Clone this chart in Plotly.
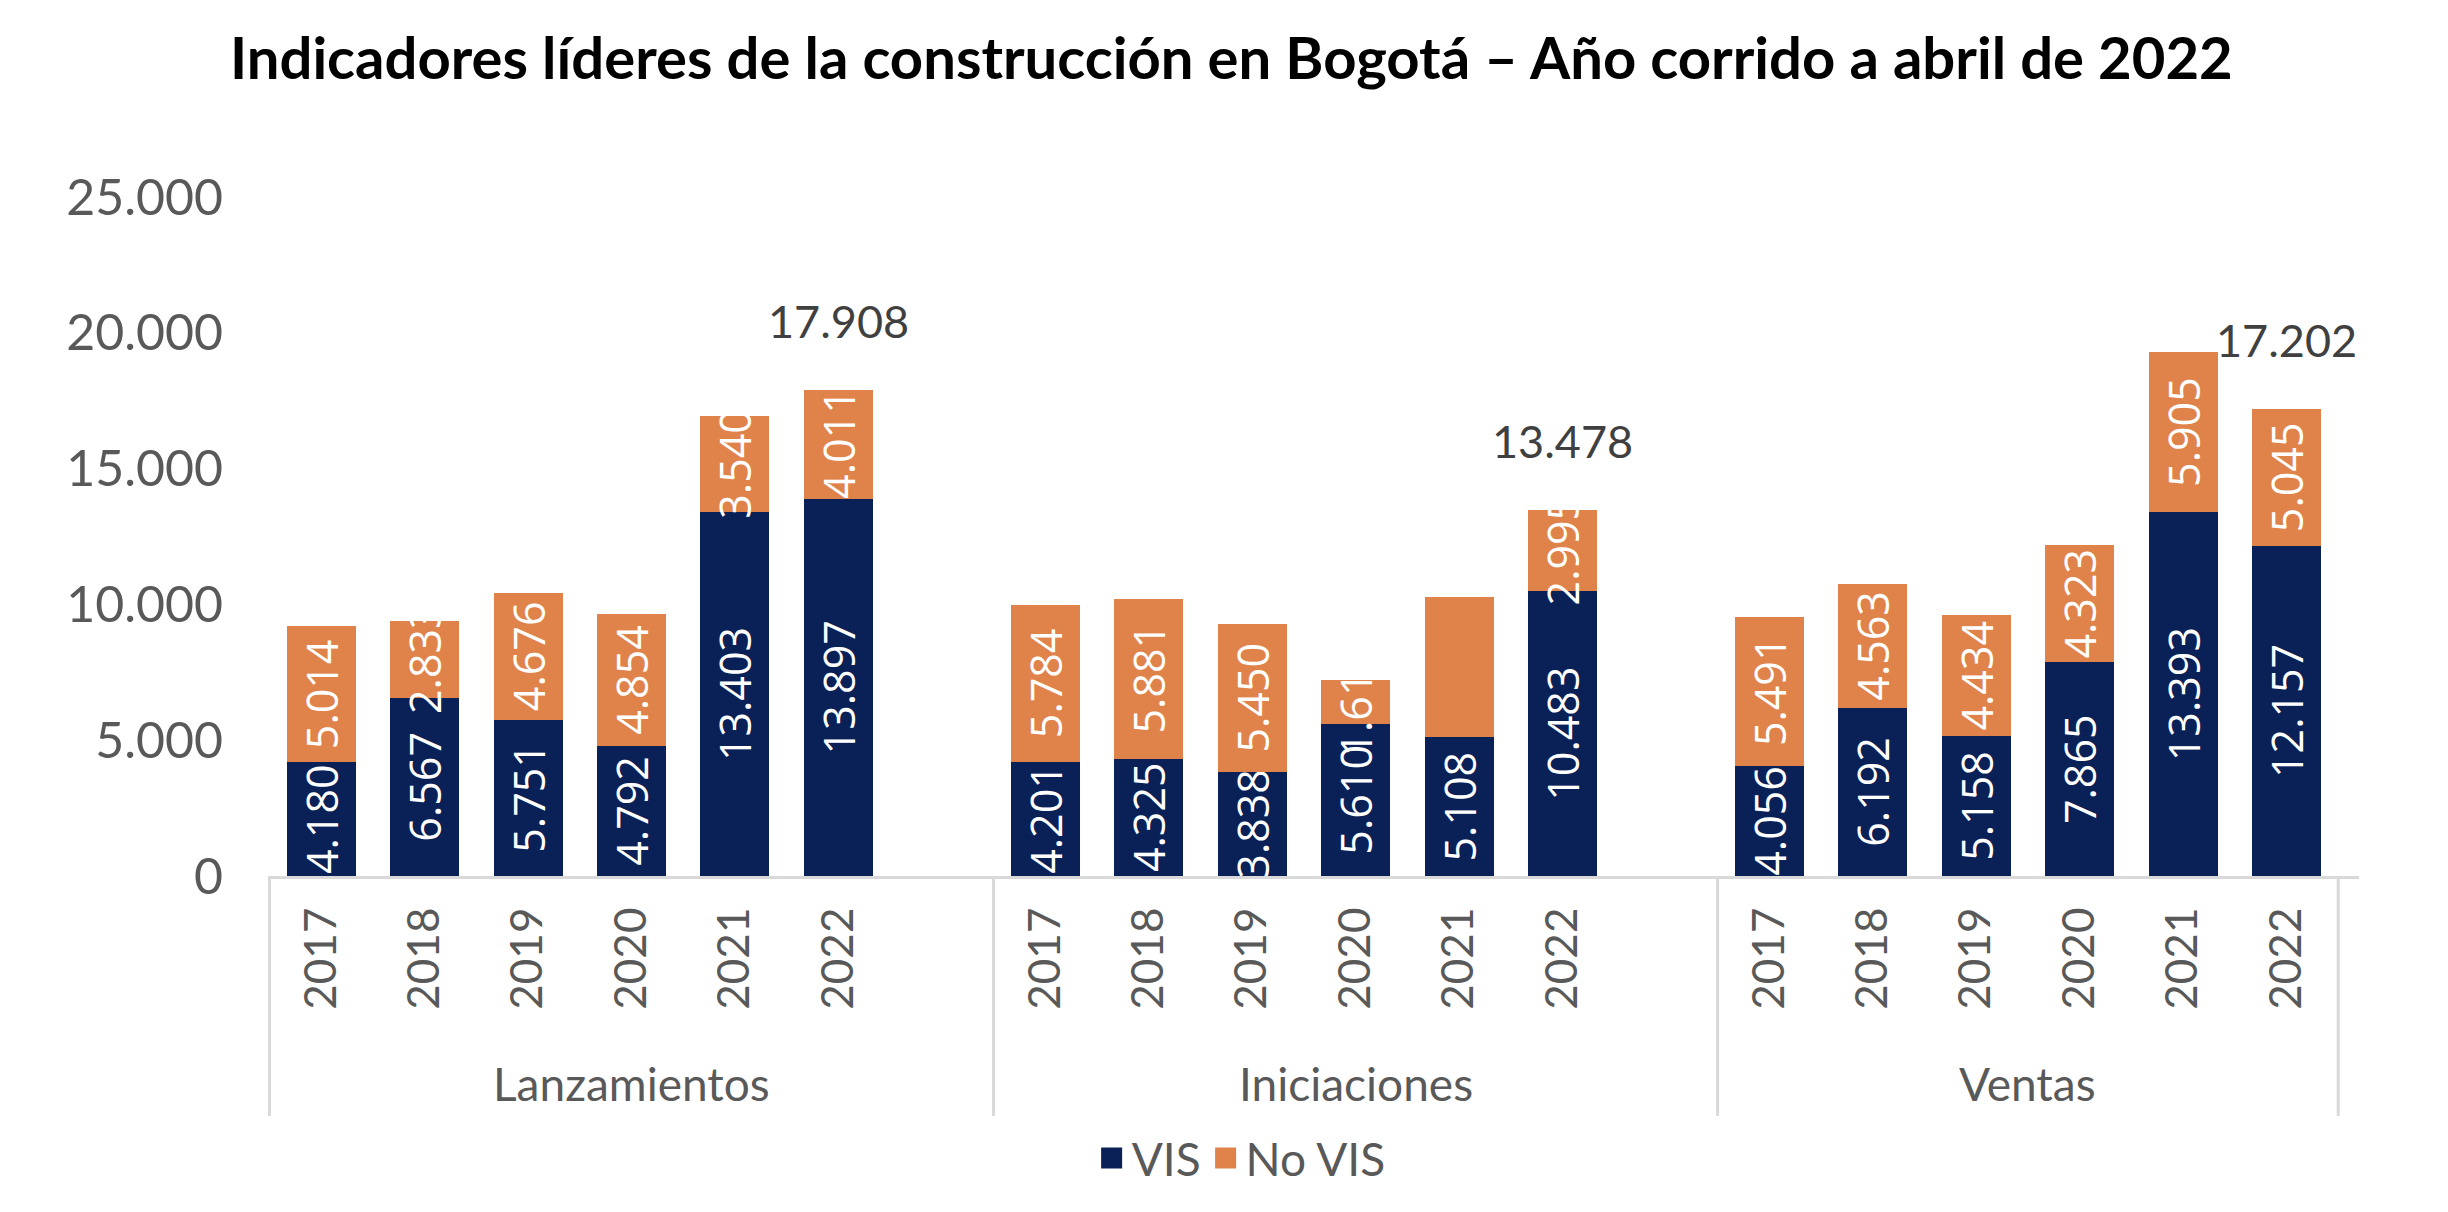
import plotly.graph_objects as go

# ---------------- data ----------------
groups = ["Lanzamientos", "Iniciaciones", "Ventas"]
years = ["2017", "2018", "2019", "2020", "2021", "2022"]

vis_lanzamientos = [4180, 6567, 5751, 4792, 13403, 13897]
novis_lanzamientos = [5014, 2833, 4676, 4854, 3540, 4011]

vis_iniciaciones = [4201, 4325, 3838, 5610, 5108, 10483]
novis_iniciaciones = [5784, 5881, 5450, 1613, 5170, 2995]

vis_ventas = [4056, 6192, 5158, 7865, 13393, 12157]
novis_ventas = [5491, 4563, 4434, 4323, 5905, 5045]

y_ticks = [0, 5000, 10000, 15000, 20000, 25000]

# labels not shown in the original (group, year, series)
hidden_labels = [("Iniciaciones", "2021", "No VIS")]
# groups followed by an empty category slot
groups_with_gap = ["Lanzamientos", "Iniciaciones"]

# ---------------- style ----------------
NAVY = "#0A2158"
ORANGE = "#E0834A"
GREY = "#595959"
AXIS_GREY = "#D9D9D9"
FONT = "Lato"

vis = {"Lanzamientos": vis_lanzamientos, "Iniciaciones": vis_iniciaciones, "Ventas": vis_ventas}
novis = {"Lanzamientos": novis_lanzamientos, "Iniciaciones": novis_iniciaciones, "Ventas": novis_ventas}


def fmt(v):
    return f"{v:,}".replace(",", ".")


# categories: one per (group, year) plus an empty slot after some groups
cats, tick_text = [], []
y_vis, y_novis, t_vis, t_novis = [], [], [], []
group_slots = {}
for g in groups:
    group_slots[g] = []
    for i, yr in enumerate(years):
        group_slots[g].append(len(cats))
        cats.append(f"{g} {yr}")
        tick_text.append(yr)
        y_vis.append(vis[g][i])
        y_novis.append(novis[g][i])
        t_vis.append("" if (g, yr, "VIS") in hidden_labels else fmt(vis[g][i]))
        t_novis.append("" if (g, yr, "No VIS") in hidden_labels else fmt(novis[g][i]))
    if g in groups_with_gap:
        group_slots[g].append(len(cats))
        cats.append(f"{g} (vacío)")
        tick_text.append("")
        y_vis.append(None)
        y_novis.append(None)
        t_vis.append("")
        t_novis.append("")

fig = go.Figure()
for name, yy, tt, col in [("VIS", y_vis, t_vis, NAVY), ("No VIS", y_novis, t_novis, ORANGE)]:
    fig.add_trace(go.Bar(
        x=cats, y=yy, name=name, legendgroup=name, showlegend=False,
        marker=dict(color=col, line=dict(width=0)),
        text=tt, textposition="inside", insidetextanchor="middle", textangle=-90,
        textfont=dict(family="Open Sans", size=43, color="white"),
        cliponaxis=True,
    ))
    # legend entry with a larger square swatch
    fig.add_trace(go.Scatter(
        x=[None], y=[None], mode="markers", name=name, legendgroup=name,
        marker=dict(symbol="square", size=27, color=col, line=dict(color=col, width=5)),
        showlegend=True,
    ))

# geometry of the plot area (pixels)
PLOT_TOP, PLOT_BOTTOM = 197, 876
plot_h = PLOT_BOTTOM - PLOT_TOP

# totals above the last year of each group, group names and dividers
for g in groups:
    last = group_slots[g][len(years) - 1]
    total = vis[g][-1] + novis[g][-1]
    fig.add_annotation(
        x=last, y=total, xref="x", yref="y", text=fmt(total), showarrow=False,
        yanchor="middle", yshift=69,
        font=dict(family=FONT, size=45, color="#404040"),
    )
    slots = group_slots[g]
    fig.add_annotation(
        x=sum(slots) / len(slots), y=-(1083 - PLOT_BOTTOM) / plot_h,
        xref="x", yref="paper", text=g, showarrow=False, yanchor="middle",
        font=dict(family=FONT, size=46, color=GREY),
    )
    for edge in ([slots[0] - 0.5] if g == groups[0] else []) + [slots[-1] + 0.5]:
        fig.add_shape(
            type="line", xref="x", yref="paper", x0=edge, x1=edge,
            y0=0, y1=-(1116 - PLOT_BOTTOM) / plot_h,
            line=dict(color=AXIS_GREY, width=3), layer="below",
        )

fig.update_layout(
    width=2448, height=1212, autosize=False,
    margin=dict(l=268, r=89, t=PLOT_TOP, b=1212 - PLOT_BOTTOM, autoexpand=False),
    paper_bgcolor="white", plot_bgcolor="white",
    barmode="stack", bargap=0.333,
    separators=",.",
    uniformtext=dict(minsize=43, mode="show"),
    title=dict(
        text="<b>Indicadores líderes de la construcción en Bogotá – Año corrido a abril de 2022</b>",
        x=0.503, xref="container", xanchor="center",
        y=1 - 59 / 1212, yref="container", yanchor="middle",
        font=dict(family=FONT, size=58, color="black"),
    ),
    legend=dict(
        orientation="h", xref="container", x=0.507, xanchor="center",
        yref="container", y=1 - 1158 / 1212, yanchor="middle",
        font=dict(family=FONT, size=46, color=GREY),
        traceorder="grouped", tracegroupgap=25,
    ),
    font=dict(family=FONT, color=GREY),
)
fig.update_yaxes(
    range=[0, 25000], tickvals=y_ticks, automargin=False,
    tickformat=",d", showgrid=False, zeroline=False, showline=False,
    tickfont=dict(family=FONT, size=50, color=GREY), ticklabelstandoff=44,
)
fig.update_xaxes(
    type="category", categoryorder="array", categoryarray=cats,
    tickvals=cats, ticktext=tick_text, automargin=False,
    showline=True, linecolor=AXIS_GREY, linewidth=3,
    showgrid=False, ticks="", tickangle=-90,
    tickfont=dict(family=FONT, size=44, color=GREY), ticklabelstandoff=11,
)

fig.write_html("out.html")
